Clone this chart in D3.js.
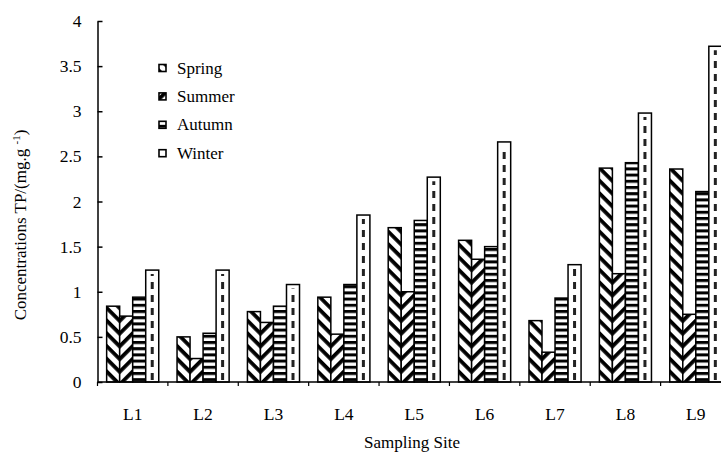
<!DOCTYPE html>
<html>
<head>
<meta charset="utf-8">
<script src="https://cdn.jsdelivr.net/npm/d3@7"></script>
<style>
  body { margin: 0; background: #fff; }
  svg { display: block; font-family: "Liberation Serif", "Times New Roman", serif; }
</style>
</head>
<body>
<div id="chart"></div>
<script>
// Data
const sites = ["L1", "L2", "L3", "L4", "L5", "L6", "L7", "L8", "L9"];
const seasons = ["Spring", "Summer", "Autumn", "Winter"];
const spring = [0.84, 0.50, 0.78, 0.94, 1.71, 1.57, 0.68, 2.37, 2.36];
const summer = [0.73, 0.26, 0.66, 0.53, 1.00, 1.36, 0.33, 1.20, 0.75];
const autumn = [0.94, 0.54, 0.84, 1.08, 1.79, 1.50, 0.93, 2.43, 2.11];
const winter = [1.24, 1.24, 1.08, 1.85, 2.27, 2.66, 1.30, 2.98, 3.72];
const yTicks = [0, 0.5, 1, 1.5, 2, 2.5, 3, 3.5, 4];

const seriesBySeason = {Spring: spring, Summer: summer, Autumn: autumn, Winter: winter};
const patternId = {Spring: "p-spring", Summer: "p-summer", Autumn: "p-autumn", Winter: "p-winter"};

const width = 721, height = 455;

const svg = d3.select("#chart")
    .append("svg")
        .attr("width", width)
        .attr("height", height)
        .attr("viewBox", `0 0 ${width} ${height}`);

// Fill patterns (black & white hatching like the original)
const defs = svg.append("defs");

const diag = (id, angle) => {
    const p = defs.append("pattern")
        .attr("id", id)
        .attr("patternUnits", "userSpaceOnUse")
        .attr("width", 9)
        .attr("height", 9)
        .attr("patternTransform", `rotate(${angle})`);
    p.append("rect").attr("width", 9).attr("height", 9).attr("fill", "#fff");
    p.append("rect").attr("width", 9).attr("height", 3.8).attr("fill", "#000");
};
diag("p-spring", 45);
diag("p-summer", -45);

const pa = defs.append("pattern")
    .attr("id", "p-autumn")
    .attr("patternUnits", "userSpaceOnUse")
    .attr("width", 10)
    .attr("height", 6.2);
pa.append("rect").attr("width", 10).attr("height", 6.2).attr("fill", "#fff");
pa.append("rect").attr("width", 10).attr("height", 3).attr("fill", "#000");

defs.append("pattern")
    .attr("id", "p-winter")
    .attr("patternUnits", "userSpaceOnUse")
    .attr("width", 10)
    .attr("height", 10)
  .append("rect").attr("width", 10).attr("height", 10).attr("fill", "#fff");

// Scales
const x0 = d3.scaleBand()
    .domain(sites)
    .range([97.5, 731])
    .paddingInner(0.26)
    .paddingOuter(0.13);
const x1 = d3.scaleBand()
    .domain(seasons)
    .range([0, x0.bandwidth()]);
const y = d3.scaleLinear()
    .domain([0, 4])
    .range([382, 21]);

const step = x0.step();

// Bars: each site group is anchored at the Spring/Summer seam so the hatching forms chevrons
const groups = svg.selectAll(".site")
    .data(sites)
    .join("g")
        .attr("class", "site")
        .attr("transform", d => `translate(${x0(d) + x1("Summer")}, 0)`);

seasons.forEach(s => {
    groups.append("rect")
        .attr("x", x1(s) - x1("Summer"))
        .attr("y", (d, i) => y(seriesBySeason[s][i]))
        .attr("width", x1.bandwidth())
        .attr("height", (d, i) => y(0) - y(seriesBySeason[s][i]))
        .attr("fill", `url(#${patternId[s]})`)
        .attr("stroke", "#000")
        .attr("stroke-width", 1.5);
});

// Dashed centre line of the winter bars
groups.append("line")
    .attr("x1", x1("Winter") - x1("Summer") + x1.bandwidth() / 2)
    .attr("x2", x1("Winter") - x1("Summer") + x1.bandwidth() / 2)
    .attr("y1", y(0) - 2)
    .attr("y2", (d, i) => y(winter[i]) + 4)
    .attr("stroke", "#222")
    .attr("stroke-width", 3)
    .attr("stroke-dasharray", "7,6");

// Y axis, ticks pointing into the plot
const leftAxis = d3.axisLeft(y)
    .tickValues(yTicks)
    .tickFormat(d => d3.format("~g")(d))
    .tickSizeInner(-5)
    .tickSizeOuter(0)
    .tickPadding(16);
const gy = svg.append("g")
    .attr("transform", "translate(97.5, 0)")
    .call(leftAxis);
gy.select(".domain").attr("stroke", "#000").attr("stroke-width", 1.5);
gy.selectAll(".tick line").attr("stroke", "#000").attr("stroke-width", 1.5);
gy.selectAll(".tick text")
    .attr("fill", "#000")
    .style("font-size", "17.5px")
    .style("font-family", "Liberation Serif, serif");

// X axis: baseline, category separators and labels
svg.append("line")
    .attr("x1", 97.5).attr("x2", 731)
    .attr("y1", y(0)).attr("y2", y(0))
    .attr("stroke", "#000").attr("stroke-width", 1.5);

svg.selectAll(".sep")
    .data(d3.range(sites.length + 1))
    .join("line")
        .attr("class", "sep")
        .attr("x1", i => x0.range()[0] + i * step)
        .attr("x2", i => x0.range()[0] + i * step)
        .attr("y1", y(0))
        .attr("y2", y(0) + 4)
        .attr("stroke", "#000")
        .attr("stroke-width", 1.2);

svg.selectAll(".xlab")
    .data(sites)
    .join("text")
        .attr("class", "xlab")
        .attr("x", d => x0(d) + x0.bandwidth() / 2)
        .attr("y", 420)
        .attr("text-anchor", "middle")
        .style("font-size", "17.5px")
        .text(d => d);

// Axis titles
svg.append("text")
    .attr("x", 412)
    .attr("y", 448)
    .attr("text-anchor", "middle")
    .style("font-size", "17px")
    .text("Sampling Site");

const yTitle = svg.append("text")
    .attr("transform", "translate(26, 225) rotate(-90)")
    .attr("text-anchor", "middle")
    .style("font-size", "17px");
yTitle.append("tspan").text("Concentrations TP/(mg.g ");
yTitle.append("tspan").attr("dy", -6).style("font-size", "11px").text("-1");
yTitle.append("tspan").attr("dy", 6).text(")");

// Legend
const legend = svg.selectAll(".legend")
    .data(seasons)
    .join("g")
        .attr("class", "legend")
        .attr("transform", (d, i) => `translate(159, ${68 + i * 28.4})`);
legend.append("rect")
    .attr("x", 0).attr("y", -3.5)
    .attr("width", 7).attr("height", 7)
    .attr("fill", d => `url(#${patternId[d]})`)
    .attr("stroke", "#000")
    .attr("stroke-width", 1.6);
legend.append("text")
    .attr("x", 18)
    .attr("y", 5.5)
    .style("font-size", "17px")
    .text(d => d);
</script>
</body>
</html>
